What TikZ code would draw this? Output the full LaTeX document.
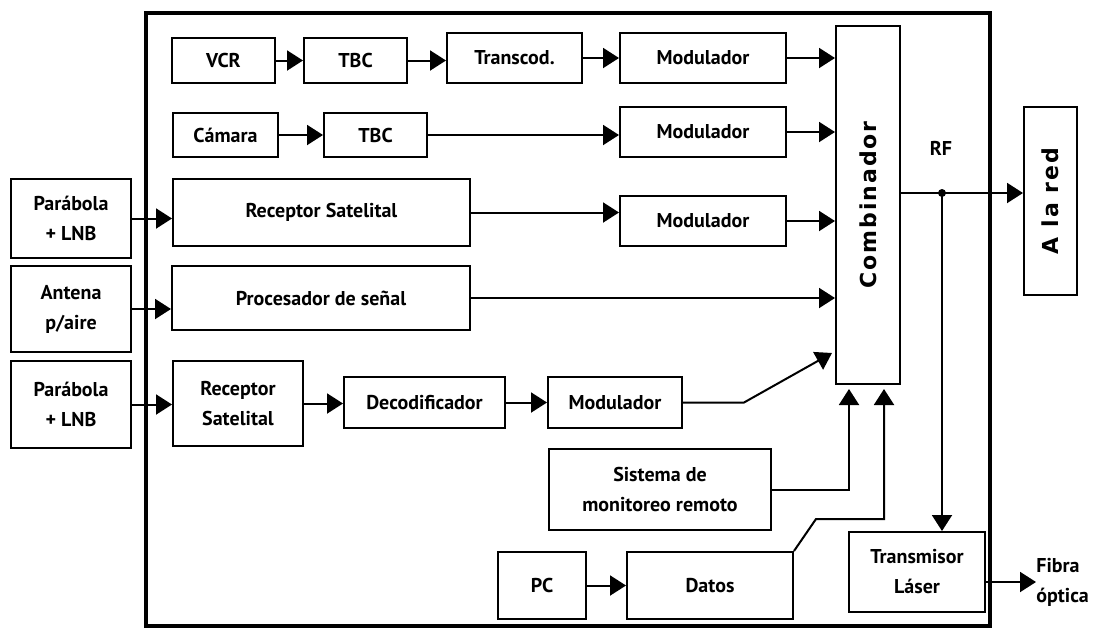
\documentclass[tikz,border=0pt]{standalone}
\usepackage{fontspec}
\setmainfont{PT Sans}
\newfontfamily\cmbfont{DejaVu Sans}[LetterSpace=9]
\usetikzlibrary{arrows.meta,calc}

\begin{document}
\begin{tikzpicture}[x=0.5pt, y=-0.5pt,
  every node/.style={font=\bfseries\fontsize{10}{15}\selectfont},
  blk/.style 2 args={draw, line width=1pt, align=center, inner sep=0pt, minimum width=#1pt, minimum height=#2pt},
  vlabel/.style={rotate=90, font=\cmbfont\bfseries\fontsize{11}{13}\selectfont},
  arr/.style={line width=1pt, -{Triangle[length=8pt, width=10pt]}},
  ln/.style={line width=1pt}]
  \useasboundingbox (0,0) rectangle (1100,628);
  \draw[line width=2pt] (146,13) rectangle (990,626);

  \node[blk={51.5}{22.5}] (vcr) at (223.5,60.5) {VCR};
  \node[blk={51.5}{22.5}] (tbca) at (355.5,60.5) {TBC};
  \node[blk={67.5}{25}] (trans) at (514.5,58) {Transcod.};
  \node[blk={83}{25}] (moda) at (703,58) {Modulador};

  \node[blk={52.5}{22}] (cam) at (225.5,135) {Cámara};
  \node[blk={51.5}{22}] (tbcb) at (375.5,135) {TBC};
  \node[blk={83}{25}] (modb) at (703,132) {Modulador};

  \node[blk={60}{39.5}] (para) at (71,218.5) {Parábola\\+ LNB};
  \node[blk={148.5}{33.5}] (reca) at (321.5,212.5) {Receptor Satelital};
  \node[blk={83}{25}] (modc) at (703,221) {Modulador};

  \node[blk={60}{43}] (ant) at (71,309) {Antena\\p/aire};
  \node[blk={149}{32}] (proc) at (321,298) {Procesador de señal};

  \node[blk={60}{43.5}] (parb) at (71,404.5) {Parábola\\+ LNB};
  \node[blk={65}{42.5}] (recb) at (238,403.5) {Receptor\\Satelital};
  \node[blk={80.5}{25.5}] (deco) at (424.5,402.5) {Decodificador};
  \node[blk={67}{25.5}] (modd) at (615,402.5) {Modulador};

  \node[blk={32}{179}] (comb) at (868,205) {};
  \node[vlabel] (combt) at (comb.center) {Combinador};
  \node[blk={26.5}{94}] (ared) at (1050.5,201) {};
  \node[vlabel] (aredt) at (ared.center) {A la red};

  \node[blk={111}{40.5}] (sist) at (660,489.5) {Sistema de\\monitoreo remoto};
  \node[blk={44}{33.5}] (pc) at (542,585.5) {PC};
  \node[blk={83}{33.5}] (datos) at (710,585.5) {Datos};
  \node[blk={68}{40}] (tx) at (917,572) {Transmisor\\Láser};

  \node (rf) at (941,148) {RF};
  \node[anchor=west, align=left, inner sep=0pt] (fibra) at (1036,582) {Fibra\\óptica};
  \coordinate (rfdot) at (942,193);
  \coordinate (ina) at ($(comb.south)+(-19,4)$);
  \coordinate (inb) at ($(comb.south)+(16,4)$);

  \draw[arr] (vcr) -- (tbca);
  \draw[arr] (tbca.east) -- (tbca.east -| trans.west);
  \draw[arr] (trans.east) -- (trans.east -| moda.west);
  \draw[arr] (moda.east) -- (moda.east -| comb.west);

  \draw[arr] (cam) -- (tbcb);
  \draw[arr] (tbcb.east) -- (tbcb.east -| modb.west);
  \draw[arr] (modb.east) -- (modb.east -| comb.west);

  \draw[arr] (para.east) -- (para.east -| reca.west);
  \draw[arr] (reca.east) -- (reca.east -| modc.west);
  \draw[arr] (modc.east) -- (modc.east -| comb.west);

  \draw[arr] (ant.east) -- (ant.east -| proc.west);
  \draw[arr] (proc.east) -- (proc.east -| comb.west);

  \draw[arr] (parb.east) -- (parb.east -| recb.west);
  \draw[arr] (recb.east) -- (recb.east -| deco.west);
  \draw[arr] (deco) -- (modd);
  \draw[arr] (modd.east) -- ++(61,0) -- ($(comb.south west)+(-3,-32)$);

  \draw[arr] (sist.east) -| (ina);
  \draw[arr] (datos.north east) -- ++(22,-32) -| (inb);
  \draw[arr] (pc) -- (datos);

  \draw[ln] (comb.east |- rfdot) -- (rfdot);
  \draw[arr] (rfdot) -- (rfdot -| ared.west);
  \fill (rfdot) circle[radius=2pt];
  \draw[arr] (rfdot) -- (rfdot |- tx.north);
  \draw[arr] (tx.east |- fibra.west) -- (fibra.west);
\end{tikzpicture}
\end{document}
